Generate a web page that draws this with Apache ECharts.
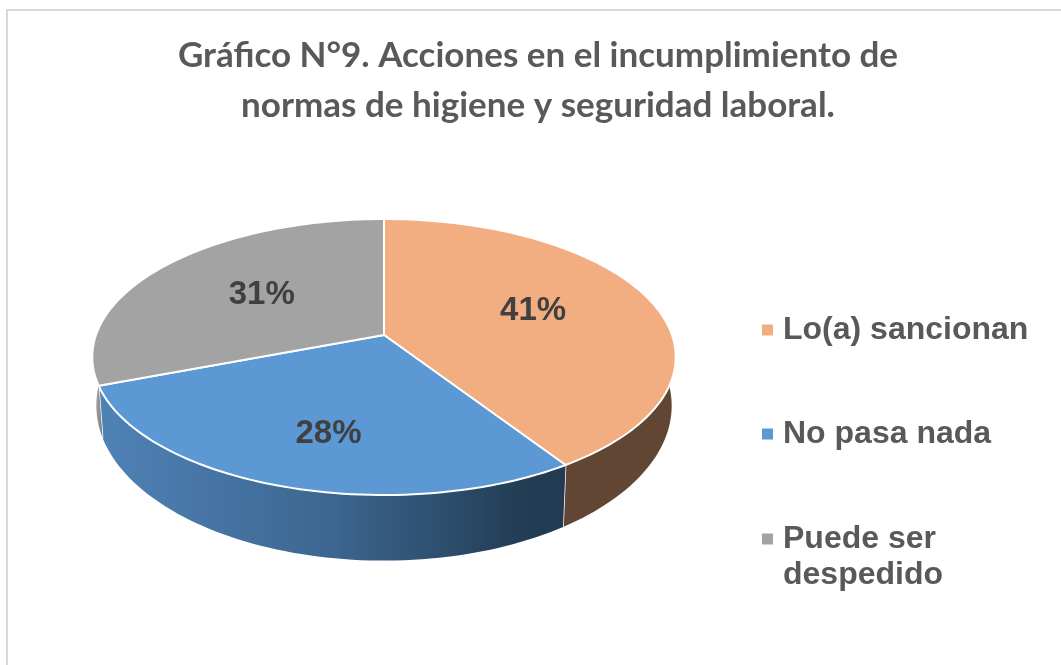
<!DOCTYPE html>
<html><head><meta charset="utf-8">
<style>html,body{margin:0;padding:0;background:#fff}#c{width:1061px;height:665px}</style>
<script src="https://cdn.jsdelivr.net/npm/echarts@6/dist/echarts.min.js"></script>
</head><body><div id="c"></div>
<script>
const titleText = 'Gráfico N°9. Acciones en el incumplimiento de\nnormas de higiene y seguridad laboral.';
const categories = ['Lo(a) sancionan', 'No pasa nada', 'Puede ser despedido'];
const values = [40.8, 28.4, 30.8];

const faceColors = ['#F2AE80', '#5B98D4', '#A3A3A3'];
const wallFills = [
  '#614733',
  new echarts.graphic.LinearGradient(0, 0, 1, 0, [
    {offset: 0, color: '#4F82B6'}, {offset: 0.5, color: '#3C6690'}, {offset: 0.9, color: '#233D55'}, {offset: 1, color: '#223B52'}]),
  new echarts.graphic.LinearGradient(0, 0, 1, 0, [
    {offset: 0, color: '#B5B5B5'}, {offset: 0.5, color: '#777777'}, {offset: 1, color: '#8A8A8A'}])
];
const labelNudge = [[1, -4], [12, 2], [2, 0]];
const labelRadius = [0.55, 0.68, 0.55];

// perspective projection of the unit pie disc
const K = -0.1594;
const topDisc = {cx: 384, cy: 335, a: 288, b: 134.5};
const baseDisc = {cx: 384, cy: 381, a: 284, b: 151};
const WALL_FROM = 78, WALL_TO = 282;
function project(disc, deg, r) {
  const t = deg * Math.PI / 180, x = r * Math.sin(t), y = -r * Math.cos(t), d = 1 + K * y;
  return [disc.cx + disc.a * x / d, disc.cy + disc.b * y / d];
}
function arc(disc, from, to) {
  const pts = [], n = Math.max(2, Math.ceil((to - from) / 1.5));
  for (let i = 0; i <= n; i++) pts.push(project(disc, from + (to - from) * i / n, 1));
  return pts;
}
const total = values.reduce((s, v) => s + v, 0);
const startAngles = values.map((_, i) => values.slice(0, i).reduce((s, v) => s + v, 0) / total * 360);

function renderSlice(index) {
  return function (params, api) {
    const v = api.value(0), from = startAngles[index], to = from + v / total * 360;
    const children = [];
    const wa = Math.max(from, WALL_FROM), wb = Math.min(to, WALL_TO);
    if (wb > wa) {
      children.push({type: 'polygon', shape: {points: arc(topDisc, wa, wb).concat(arc(baseDisc, wa, wb).reverse())},
        style: {fill: wallFills[index], stroke: null}});
      if (to <= WALL_TO) children.push({type: 'line',
        shape: (p => ({x1: p[0][0], y1: p[0][1], x2: p[1][0], y2: p[1][1]}))([project(topDisc, to, 1), project(baseDisc, to, 1)]),
        style: {stroke: '#ffffff', lineWidth: 1.5}});
    }
    children.push({type: 'polygon', shape: {points: [[topDisc.cx, topDisc.cy]].concat(arc(topDisc, from, to))},
      style: {fill: faceColors[index], stroke: '#ffffff', lineWidth: 2, lineJoin: 'round'}});
    const p = project(topDisc, (from + to) / 2, labelRadius[index]);
    children.push({type: 'text', z2: 10, style: {
      text: Math.round(v / total * 100) + '%', x: p[0] + labelNudge[index][0], y: p[1] + labelNudge[index][1],
      fill: '#404040', font: 'bold 33px "Liberation Sans", Arial, sans-serif', align: 'center', verticalAlign: 'middle'}});
    return {type: 'group', children};
  };
}

const legendBase = {orient: 'vertical', left: 762, padding: 0, icon: 'rect', itemWidth: 11, itemHeight: 11, selectedMode: false};
const legendText = {color: '#595959', fontFamily: '"Liberation Sans", Arial, sans-serif', fontWeight: 'bold', fontSize: 32, lineHeight: 36, padding: [0, 0, 0, 5]};

const chart = echarts.init(document.getElementById('c'), null, {renderer: 'canvas'});
chart.setOption({
  animation: false,
  backgroundColor: '#ffffff',
  title: {text: titleText, left: 533, top: 26, textAlign: 'center',
    textStyle: {fontFamily: 'Lato, sans-serif', fontWeight: 'bold', fontSize: 35, lineHeight: 50, color: '#595959'}},
  legend: [
    Object.assign({}, legendBase, {data: [categories[0]], top: 312, textStyle: legendText}),
    Object.assign({}, legendBase, {data: [categories[1]], top: 416, textStyle: legendText}),
    Object.assign({}, legendBase, {data: [categories[2]], top: 485, textStyle: legendText,
      formatter: n => '\n' + n.replace('ser ', 'ser\n')})
  ],
  graphic: [{type: 'rect', shape: {x: 7, y: 10, width: 1100, height: 700}, style: {fill: 'none', stroke: '#D9D9D9', lineWidth: 2}, silent: true}],
  series: categories.map((name, i) => ({
    name, type: 'custom', coordinateSystem: 'none', silent: true,
    itemStyle: {color: faceColors[i]},
    data: [[values[i]]],
    renderItem: renderSlice(i)
  }))
});
</script></body></html>
